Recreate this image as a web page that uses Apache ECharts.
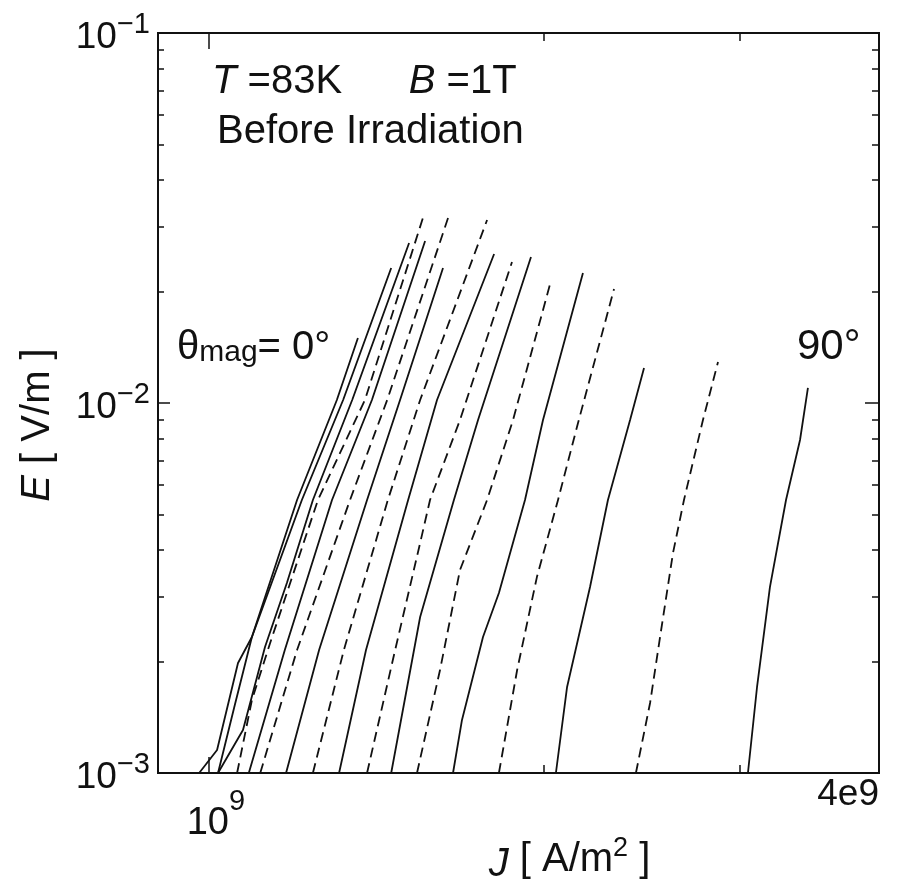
<!DOCTYPE html>
<html>
<head>
<meta charset="utf-8">
<script src="https://cdn.jsdelivr.net/npm/echarts@6/dist/echarts.min.js"></script>
<style>
  html, body { margin: 0; padding: 0; background: #fff; }
  #chart { width: 899px; height: 887px; }
</style>
</head>
<body>
<div id="chart"></div>
<script>
// J in 1e9 A/m^2, E in 1e-3 V/m (left to right)
const c01 = [[0.980, 1.000], [1.017, 1.154], [1.062, 1.983], [1.093, 2.331], [1.200, 5.469], [1.303, 10.19], [1.361, 14.99]];
const c02 = [[1.019, 1.000], [1.055, 1.527], [1.093, 2.331], [1.212, 5.469], [1.320, 10.19], [1.458, 23.17]];
const c03 = [[1.019, 1.000], [1.073, 1.307], [1.123, 2.191], [1.175, 3.262], [1.240, 5.469], [1.345, 10.19], [1.513, 27.06]];
const c04 = [[1.060, 1.000], [1.093, 1.575], [1.135, 2.246], [1.253, 5.469], [1.381, 10.19], [1.560, 32.22]];
const c05 = [[1.086, 1.000], [1.170, 2.150], [1.290, 5.469], [1.401, 10.19], [1.564, 27.40]];
const c06 = [[1.112, 1.000], [1.200, 2.150], [1.339, 5.469], [1.446, 10.19], [1.640, 31.62]];
const c07 = [[1.173, 1.000], [1.256, 2.150], [1.387, 5.469], [1.485, 10.19], [1.623, 23.17]];
const c08 = [[1.240, 1.000], [1.322, 2.150], [1.448, 5.469], [1.548, 10.19], [1.778, 31.23]];
const c09 = [[1.309, 1.000], [1.384, 2.150], [1.510, 5.469], [1.603, 10.19], [1.804, 25.28]];
const c10 = [[1.387, 1.000], [1.470, 2.150], [1.548, 4.184], [1.580, 5.469], [1.681, 8.997], [1.872, 24.05]];
const c11 = [[1.458, 1.000], [1.548, 2.640], [1.660, 5.469], [1.745, 8.997], [1.947, 24.81]];
const c12 = [[1.538, 1.000], [1.613, 1.898], [1.681, 3.536], [1.778, 5.469], [1.876, 8.997], [2.029, 21.37]];
const c13 = [[1.657, 1.000], [1.688, 1.391], [1.763, 2.331], [1.822, 3.066], [1.923, 5.469], [1.996, 8.997], [2.168, 22.46]];
const c14 = [[1.822, 1.000], [1.892, 1.898], [1.971, 3.385], [2.059, 5.469], [2.146, 8.831], [2.312, 20.33]];
const c15 = [[2.050, 1.000], [2.098, 1.708], [2.200, 3.181], [2.283, 5.469], [2.390, 8.997], [2.460, 12.44]];
const c16 = [[2.419, 1.000], [2.491, 1.546], [2.543, 2.331], [2.612, 3.932], [2.672, 5.469], [2.779, 8.997], [2.867, 12.91]];
const c17 = [[3.050, 1.000], [3.108, 1.708], [3.192, 3.181], [3.300, 5.469], [3.397, 7.943], [3.453, 10.98]];

const curves = [c01, c02, c03, c04, c05, c06, c07, c08, c09, c10, c11, c12, c13, c14, c15, c16, c17];
const dashedCurves = [false, false, false, true, false, true, false, true, false, true, false, true, false, true, false, true, false];

// axes
const xMin = 0.9e9, xMax = 4e9;
const yMin = 1e-3, yMax = 1e-1;
const xMajorTicks = [1e9];
const xMinorTicks = [2e9, 3e9];
const xLabelValues = [1e9, 4e9];
const xLabelTexts = ['{b|10}{s|9}', '{p|4e9}'];
const yMajorTicks = [1e-3, 1e-2, 1e-1];
const yMinorTicks = [2e-3, 3e-3, 4e-3, 5e-3, 6e-3, 7e-3, 8e-3, 9e-3, 2e-2, 3e-2, 4e-2, 5e-2, 6e-2, 7e-2, 8e-2, 9e-2];
const yLabelValues = [1e-3, 1e-2, 1e-1];
const yLabelTexts = ['{b|10}{s|\u22123}', '{b|10}{s|\u22122}', '{b|10}{s|\u22121}'];

const FONT = '"Liberation Sans", Arial, Helvetica, sans-serif';
const INK = '#111';

function pickLabel(values, texts, v) {
  for (let i = 0; i < values.length; i++) {
    if (Math.abs(Math.log10(v) - Math.log10(values[i])) < 1e-6) return texts[i];
  }
  return '';
}

const yLabelRich = {
  b: { fontSize: 37, fontFamily: FONT, color: INK, verticalAlign: 'bottom', lineHeight: 46 },
  s: { fontSize: 29, fontFamily: FONT, color: INK, verticalAlign: 'top', lineHeight: 30 }
};
const xLabelRich = {
  b: { fontSize: 38, fontFamily: FONT, color: INK, verticalAlign: 'bottom', lineHeight: 56 },
  s: { fontSize: 29, fontFamily: FONT, color: INK, verticalAlign: 'top', lineHeight: 30 },
  p: { fontSize: 37, fontFamily: FONT, color: INK, lineHeight: 16 }
};

const axisLine = { show: true, lineStyle: { color: INK, width: 2 } };

function xAxisOf(pos, ticks, len, withLabel) {
  return {
    type: 'log', position: pos, min: xMin, max: xMax,
    axisLine: axisLine,
    axisTick: { show: true, inside: true, length: len, customValues: ticks, lineStyle: { color: INK, width: 1.5 } },
    axisLabel: withLabel ? {
      show: true, customValues: xLabelValues, margin: 14, alignMaxLabel: 'right',
      padding: [0, 0, 0, 14],
      formatter: v => pickLabel(xLabelValues, xLabelTexts, v), rich: xLabelRich
    } : { show: false },
    splitLine: { show: false }, minorTick: { show: false }
  };
}

function yAxisOf(pos, ticks, len, withLabel) {
  return {
    type: 'log', position: pos, min: yMin, max: yMax,
    axisLine: axisLine,
    axisTick: { show: true, inside: true, length: len, customValues: ticks, lineStyle: { color: INK, width: 1.5 } },
    axisLabel: withLabel ? {
      show: true, customValues: yLabelValues, margin: 8,
      formatter: v => pickLabel(yLabelValues, yLabelTexts, v), rich: yLabelRich
    } : { show: false },
    splitLine: { show: false }, minorTick: { show: false }
  };
}

const xBottom = xAxisOf('bottom', xMajorTicks, 16, true);
xBottom.name = '{i|J} [ A/m{s|2} ]';
xBottom.nameLocation = 'middle';
xBottom.nameGap = 62;
xBottom.nameMoveOverlap = false;
xBottom.nameTextStyle = {
  rich: {
    i: { fontSize: 40, fontFamily: FONT, fontStyle: 'italic', color: INK, verticalAlign: 'bottom', lineHeight: 50 },
    s: { fontSize: 27, fontFamily: FONT, color: INK, verticalAlign: 'top', lineHeight: 30 }
  },
  fontSize: 40, fontFamily: FONT, color: INK, lineHeight: 50, verticalAlign: 'top',
  padding: [0, 0, 0, 102]
};

const yLeft = yAxisOf('left', yMajorTicks, 12, true);
yLeft.name = '{i|E} [ V/m ]';
yLeft.nameLocation = 'middle';
yLeft.nameGap = 100;
yLeft.nameMoveOverlap = false;
yLeft.nameTextStyle = {
  rich: { i: { fontSize: 40, fontFamily: FONT, fontStyle: 'italic', color: INK } },
  fontSize: 40, fontFamily: FONT, color: INK,
  padding: [0, 44, 0, 0]
};

const series = curves.map((pts, i) => ({
  type: 'line',
  xAxisIndex: 0,
  yAxisIndex: 0,
  data: pts.map(p => [p[0] * 1e9, p[1] * 1e-3]),
  symbol: 'none',
  showSymbol: false,
  smooth: false,
  clip: true,
  silent: true,
  lineStyle: { color: INK, width: 1.8, type: dashedCurves[i] ? [10, 6] : 'solid' }
}));

const textRich = {
  i: { fontSize: 40, fontFamily: FONT, fontStyle: 'italic', fill: INK },
  n: { fontSize: 40, fontFamily: FONT, fill: INK },
  t: { fontSize: 40, fontFamily: FONT, fill: INK, verticalAlign: 'bottom', lineHeight: 50 },
  sub: { fontSize: 30, fontFamily: FONT, fill: INK, verticalAlign: 'bottom', lineHeight: 24 }
};

const option = {
  animation: false,
  backgroundColor: '#fff',
  grid: { left: 158, top: 33, right: 20, bottom: 114, containLabel: false, outerBoundsMode: 'none' },
  xAxis: [
    xBottom,
    xAxisOf('bottom', xMinorTicks, 8, false),
    xAxisOf('top', xMajorTicks, 16, false),
    xAxisOf('top', xMinorTicks, 8, false)
  ],
  yAxis: [
    yLeft,
    yAxisOf('left', yMinorTicks, 6, false),
    yAxisOf('right', yMajorTicks, 14, false),
    yAxisOf('right', yMinorTicks, 7, false)
  ],
  series: series,
  graphic: [
    { type: 'text', left: 212, top: 62, style: { text: '{i|T}{n| =83K      }{i|B}{n| =1T}', rich: textRich } },
    { type: 'text', left: 217, top: 112, style: { text: 'Before Irradiation', fontSize: 40, fontFamily: FONT, fill: INK } },
    { type: 'text', left: 177, top: 328, style: { text: '{t|\u03b8}{sub|mag}{t|= 0\u00b0}', rich: textRich } },
    { type: 'text', left: 797, top: 326, style: { text: '90\u00b0', fontSize: 42, fontFamily: FONT, fill: INK } }
  ]
};

const myChart = echarts.init(document.getElementById('chart'));
myChart.setOption(option);
</script>
</body>
</html>
